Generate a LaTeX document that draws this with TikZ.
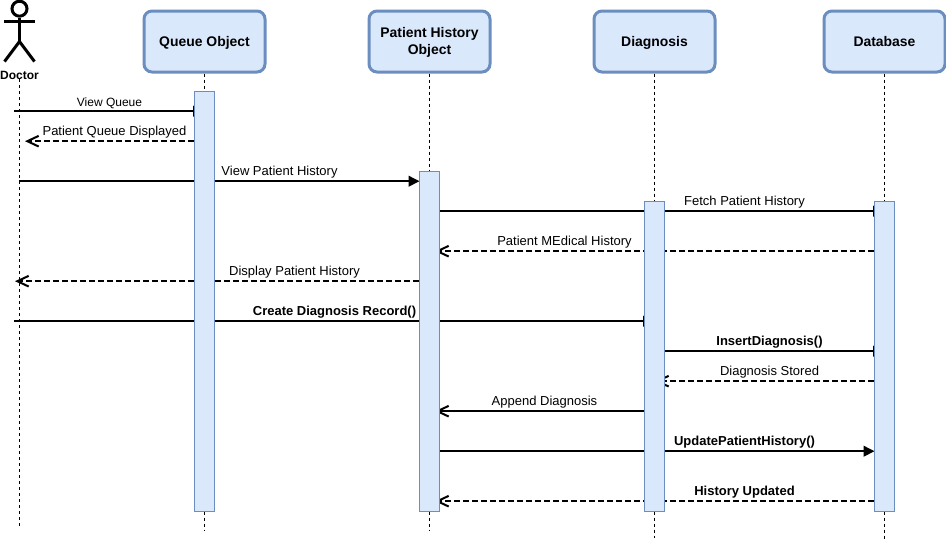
\documentclass[tikz,border=0pt]{standalone}
\usepackage{fontspec}
\setmainfont{Liberation Sans}
\usetikzlibrary{arrows.meta}
\definecolor{boxfill}{HTML}{DAE8FC}
\definecolor{boxline}{HTML}{6C8EBF}
\newcommand{\headstrut}{\rule[-3pt]{0pt}{12.75pt}}
\tikzset{
  headbox/.style={draw=boxline,fill=boxfill,line width=2.25pt,rounded corners=6pt,minimum width=90.75pt,minimum height=45.75pt,align=center,font=\fontsize{10.45pt}{12.75pt}\selectfont\bfseries,inner sep=0pt},
  actbox/.style={draw=boxline,fill=boxfill,line width=.75pt,minimum width=15pt,inner sep=0pt},
  lifeline/.style={line width=.75pt,dash pattern=on 2.25pt off 2.25pt},
  callmsg/.style={line width=1.5pt,-{Triangle[length=8.25pt,width=8pt]}},
  backmsg/.style={line width=1.5pt,dash pattern=on 4.5pt off 2.25pt,-{Straight Barb[length=8.5pt,width=8pt]}},
  openmsg/.style={line width=1.5pt,-{Straight Barb[length=8.5pt,width=8pt]}},
  msgtext/.style={font=\fontsize{9.75pt}{11pt}\selectfont,inner sep=0pt,anchor=base},
  msgbold/.style={msgtext,font=\fontsize{9.75pt}{11pt}\selectfont\bfseries},
  stick/.style={line width=2.25pt}
}
\begin{document}
\begin{tikzpicture}[x=.75pt,y=-.75pt]
\useasboundingbox (0,0) rectangle (946,543);
% heads
\node[headbox] (queue) at (204.5,41.5) {\headstrut Queue Object};
\node[headbox] (history) at (429.5,41.5) {\headstrut Patient History\\\headstrut Object};
\node[headbox] (diag) at (654.5,41.5) {\headstrut Diagnosis};
\node[headbox] (db) at (884.5,41.5) {\headstrut Database};
% actor
\node[stick,draw,circle,minimum size=11.25pt,inner sep=0pt] (dochead) at (19.5,8.7) {};
\coordinate (hip) at (19.5,41.5);
\coordinate (armL) at (4.3,21);
\coordinate (armR) at (34.7,21);
\coordinate (legL) at (4.5,61.5);
\coordinate (legR) at (34.5,61.5);
\draw[stick] (dochead) -- (hip);
\draw[stick] (armL) -- (armR);
\draw[stick] (legL) -- (hip) -- (legR);
\node[font=\fontsize{9pt}{10pt}\selectfont\bfseries,inner sep=0pt] (doctor) at (19.5,75) {Doctor};
% lifelines
\coordinate (docend) at (19.5,528);
\coordinate (queueend) at (204.5,530);
\coordinate (historyend) at (429.5,530);
\coordinate (diagend) at (654.5,538);
\coordinate (dbend) at (884.5,541);
\draw[lifeline] (doctor) -- (docend);
\draw[lifeline] (queue) -- (queueend);
\draw[lifeline] (history) -- (historyend);
\draw[lifeline] (diag) -- (diagend);
\draw[lifeline] (db) -- (dbend);
% message ends
\coordinate (a1) at (14,111.2);     \coordinate (b1) at (204,111.2);
\coordinate (a2) at (194,141.2);    \coordinate (b2) at (25,141.2);
\coordinate (a3) at (19,181.2);     \coordinate (b3) at (419.5,181.2);
\coordinate (a4) at (439,211.2);    \coordinate (b4) at (884,211.2);
\coordinate (a5) at (874,251.2);    \coordinate (b5) at (435,251.2);
\coordinate (a6) at (419,281.2);    \coordinate (b6) at (15,281.2);
\coordinate (a7) at (14,321.2);     \coordinate (b7) at (654,321.2);
\coordinate (a8) at (664,351.2);    \coordinate (b8) at (884,351.2);
\coordinate (a9) at (874,381.2);    \coordinate (b9) at (655,381.2);
\coordinate (a10) at (644,411.2);   \coordinate (b10) at (435,411.2);
\coordinate (a11) at (439,451.2);   \coordinate (b11) at (874.5,451.2);
\coordinate (a12) at (874,501.2);   \coordinate (b12) at (435,501.2);
% messages
\draw[callmsg] (a1) -- (b1);
\draw[backmsg] (a2) -- (b2);
\draw[callmsg] (a3) -- (b3);
\draw[callmsg] (a4) -- (b4);
\draw[backmsg] (a5) -- (b5);
\draw[backmsg] (a6) -- (b6);
\draw[callmsg] (a7) -- (b7);
\draw[callmsg] (a8) -- (b8);
\draw[backmsg] (a9) -- (b9);
\draw[openmsg] (a10) -- (b10);
\draw[callmsg] (a11) -- (b11);
\draw[backmsg] (a12) -- (b12);
% activations
\node[actbox,minimum height=315.5pt] (queueact) at (204.5,301.35) {};
\node[actbox,minimum height=255.5pt] (historyact) at (429.5,341.35) {};
\node[actbox,minimum height=233pt] (diagact) at (654.5,356.35) {};
\node[actbox,minimum height=233pt] (dbact) at (884.5,356.35) {};
% labels
\node[msgtext,font=\fontsize{9pt}{10pt}\selectfont] (m1) at (109.5,106) {View Queue};
\node[msgtext] (m2) at (114.5,135) {Patient Queue Displayed};
\node[msgtext] (m3) at (279.5,175) {View Patient History};
\node[msgtext] (m4) at (744.5,205) {Fetch Patient History};
\node[msgtext] (m5) at (564.5,245) {Patient MEdical History};
\node[msgtext] (m6) at (294.5,275) {Display Patient History};
\node[msgbold] (m7) at (334.5,315) {Create Diagnosis Record()};
\node[msgbold] (m8) at (769.5,345) {InsertDiagnosis()};
\node[msgtext] (m9) at (769.5,375) {Diagnosis Stored};
\node[msgtext] (m10) at (544.5,405) {Append Diagnosis};
\node[msgbold] (m11) at (744.5,445) {UpdatePatientHistory()};
\node[msgbold] (m12) at (744.5,495) {History Updated};
\end{tikzpicture}
\end{document}
